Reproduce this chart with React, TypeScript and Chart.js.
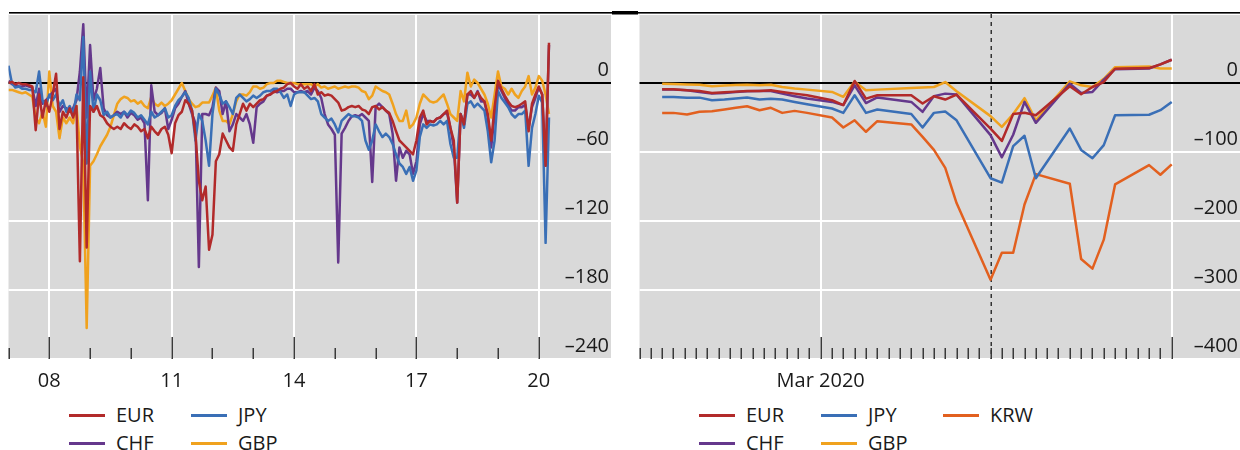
import React, { useEffect, useRef } from 'react';
import { Chart, registerables } from 'chart.js';

Chart.register(...registerables);

const FONT = '"Open Sans", "Noto Sans", sans-serif';
const TEXT = '#1a1a1a';
const PANEL_BG = '#d9d9d9';
const TICK_COLOR = '#3a3a3a';

const COLORS: Record<string, string> = {
  EUR: '#b22a2a',
  JPY: '#3a6fb6',
  CHF: '#65388c',
  GBP: '#f0a21e',
  KRW: '#e2601f',
};

// ---------- Left panel: monthly observations, Jan 2007 – Apr 2020 ----------
const leftStartYear = 2007;
const leftEUR = [
  0, 1, -1, 0, -1, -1, -2, -3, -41, -10, -30, -15,
  -25, -10, 8, -40, -25, -30, -22, -30, -20, -155, 5, -143,
  -20, -25, -20, -28, -30, -35, -38, -40, -38, -40, -35, -38,
  -40, -36, -38, -42, -40, -48, -38, -42, -45, -40, -38, -45,
  -61, -35, -28, -25, -15, -18, -24, -45, -85, -102, -90, -145,
  -132, -68, -62, -44, -50, -56, -59, -36, -27, -18, -24, -18,
  -21, -18, -15, -14, -11, -10, -8, -7, -5, -4, -1, 0,
  -3, -5, -1, -5, -3, -7, -1, -10, -8, -11, -10, -11,
  -14, -17, -24, -23, -21, -20, -21, -20, -23, -24, -27, -21,
  -20, -23, -21, -24, -26, -33, -42, -50, -53, -56, -59, -62,
  -50, -30, -24, -36, -33, -34, -31, -30, -27, -24, -39, -50,
  -104, -27, -36, -10, -7, -13, -8, -13, -16, -27, -50, -21,
  2, -5, -11, -16, -20, -21, -20, -18, -16, -42, -18, -10,
  -3, -10, -72, 35,
];
const leftJPY = [
  15, 0, -4, -3, -5, -5, -6, -6, -8, 10, -15, -20,
  -10, -15, -10, -20, -15, -25, -20, -28, -10, -15, 40, -70,
  10, -25, -10, -15, -28, -25, -30, -28, -27, -30, -25, -28,
  -24, -26, -30, -28, -32, -36, -25, -30, -28, -25, -22, -30,
  -28, -20, -15, -12, -8, -13, -24, -50, -27, -33, -50, -72,
  -27, -5, -10, -18, -16, -21, -27, -13, -10, -13, -16, -14,
  -11, -13, -11, -8, -7, -7, -5, -5, -8, -13, -10, -20,
  -10, -8, -8, -8, -11, -14, -13, -16, -27, -30, -33, -31,
  -36, -43, -33, -30, -27, -29, -29, -30, -33, -50, -58, -50,
  -36, -42, -47, -44, -47, -53, -62, -70, -73, -79, -73, -85,
  -76, -47, -36, -39, -36, -37, -36, -33, -36, -33, -53, -65,
  -65, -27, -39, -18, -16, -21, -18, -21, -24, -42, -69, -50,
  -7, -13, -17, -21, -27, -30, -27, -27, -24, -72, -39, -27,
  -11, -17, -139, -30,
];
const leftCHF = [
  2, -1, -2, -3, -3, -2, -3, -4, -20, -5, -18, -15,
  -12, -8, -5, -25, -20, -22, -25, -22, -15, 10, 51, -30,
  33, -15, -5, 13, -22, -28, -30, -28, -25, -27, -25, -30,
  -26, -28, -32, -30, -35, -102, -2, -25, -28, -26, -22, -40,
  -32, -22, -18, -12, -7, -18, -27, -35, -160, -27, -27, -28,
  -21, -4, -7, -27, -16, -42, -36, -27, -30, -33, -27, -36,
  -52, -21, -18, -16, -11, -10, -7, -8, -7, -7, -5, -5,
  -8, -8, -7, -8, -7, -10, -4, -7, -13, -27, -36, -40,
  -45, -156, -44, -39, -33, -29, -28, -29, -27, -30, -33, -86,
  -21, -18, -21, -24, -27, -44, -85, -56, -65, -59, -62, -79,
  -68, -36, -27, -33, -33, -34, -31, -30, -27, -26, -39, -56,
  -104, -27, -36, -10, -10, -13, -7, -16, -16, -30, -56, -27,
  -1, -7, -13, -19, -24, -24, -21, -21, -19, -39, -21, -13,
  -4, -10, -72, 33,
];
const leftGBP = [
  -6, -6, -7, -8, -9, -8, -10, -12, -30, -35, -25, -38,
  10, -20, -25, -48, -30, -35, -30, -35, -20, -55, -70, -213,
  -72, -68, -62, -55, -50, -45, -38, -28, -18, -14, -12, -13,
  -16, -15, -18, -16, -20, -22, -12, -18, -20, -17, -20, -18,
  -15, -10, -5, 0, -7, -14, -18, -21, -20, -17, -17, -17,
  -11, -4, -24, -33, -33, -36, -27, -16, -10, -10, -11, -8,
  -3, -3, -5, -4, -1, 0, 0, 2, 2, 1, 0, 0,
  0, -1, -1, -1, -1, -1, -3, -1, -4, -3, -5, -4,
  -3, -5, -4, -3, -4, -3, -3, -4, -7, -8, -14, -11,
  -3, -5, -7, -8, -10, -18, -27, -33, -33, -24, -39, -36,
  -30, -18, -10, -13, -16, -17, -16, -13, -10, -18, -27, -30,
  -33, -7, -16, 9, -3, 3, 0, -5, -10, -18, -30, -10,
  10, -3, -5, -10, -5, -10, -13, -7, -3, 6, -10, -4,
  6, 2, -10, -27,
];
const leftTickYears = [2007, 2008, 2009, 2010, 2011, 2012, 2013, 2014, 2015, 2016, 2017, 2018, 2019, 2020];
const leftMajorYears = [2008, 2011, 2014, 2017, 2020];
const leftYTicks = [-240, -180, -120, -60, 0, 60];

// ---------- Right panel: days since 14 Feb 2020 ----------
const rightDays = [2, 3, 4.2, 5.3, 6.4, 7.5, 8.5, 9.5, 10.6, 11.6, 12.6, 13.7, 14.8, 17, 18, 19, 20, 21, 24, 25, 26, 27, 28, 31, 32, 33, 34, 35, 38, 39, 40, 41, 42, 45, 46, 47];
const rightEUR = [-9, -9, -10.6, -11.5, -14.4, -13.5, -12.5, -11.5, -11.5, -10.6, -13, -15.4, -17.8, -25, -32, 3, -22.6, -17.8, -17.8, -29.8, -19.2, -24, -16.8, -66, -84, -45, -43, -46.7, -4.8, -16.4, -5.8, 1.4, 20.7, 21.6, 27, 33.7];
const rightJPY = [-20.2, -20.2, -21.2, -21.2, -25, -24, -22.6, -21, -24, -23, -24, -27.4, -30.8, -37, -43.3, -17.8, -43.3, -38.5, -45, -64.5, -43.3, -41.4, -54, -138, -144.3, -91.4, -76.5, -138, -66, -97, -109, -90, -46.7, -46, -39.4, -27.4];
const rightCHF = [-9.6, -9.6, -10.6, -13, -15.4, -14.4, -13, -12, -11.5, -11.5, -15.4, -19.2, -22.6, -27.4, -32, -3.4, -29, -21, -27.4, -41.8, -19, -15.4, -16.8, -75.5, -107.7, -75, -27.4, -57.7, -1, -14.4, -13, 4.8, 20, 21, 27, 33.7];
const rightGBP = [-1, -1.4, -2, -2.4, -4.8, -3.8, -3, -2.4, -3.4, -2.4, -5.8, -8, -9.6, -13, -20, 2, -10.6, -9.6, -7.2, -6.5, -5.8, 1.4, -12, -48, -63.5, -45, -22, -54, 2.4, -3.4, -5.8, 6, 23, 24, 21, 21];
const rightKRW = [-43.3, -43.3, -45.7, -41.8, -41, -38.5, -36, -33.7, -39.4, -36, -43.3, -40.4, -43.3, -50, -64.5, -54, -70.7, -55.3, -60, -78, -97, -123, -174, -285, -246, -246, -176, -132, -146, -255, -269, -227, -147, -119, -133, -118];
const rightTickDays = Array.from({ length: 48 }, (_, i) => i);
const rightMajorDays = [16, 47];
const rightDayLabels: Record<number, string> = { 16: 'Mar 2020' };
const rightEventDay = 31;
const rightYTicks = [-400, -300, -200, -100, 0, 100];

const fmt = (v: number) => (v < 0 ? '\u2013' + Math.abs(v) : String(v));

function lineDataset(label: string, xs: number[], ys: number[]) {
  return {
    label,
    data: ys.map((y, i) => ({ x: xs[i], y })),
    borderColor: COLORS[label],
    backgroundColor: COLORS[label],
    borderWidth: 2.5,
    pointRadius: 0,
    tension: 0,
    fill: false,
    borderJoinStyle: 'round' as const,
  };
}

function panelPlugin(o: {
  tickValues: number[];
  majorValues: number[];
  dashedAt?: number;
  topLineFrom: number;
  thick: [number, number];
}) {
  return {
    id: 'panelDecor',
    beforeDraw(chart: any) {
      const { ctx, chartArea: a } = chart;
      ctx.save();
      ctx.fillStyle = PANEL_BG;
      ctx.fillRect(a.left, a.top, a.right - a.left, a.bottom - a.top);
      ctx.restore();
    },
    beforeDatasetsDraw(chart: any) {
      const { ctx, chartArea: a, scales } = chart;
      const xs = scales.x;
      ctx.save();
      ctx.strokeStyle = TICK_COLOR;
      ctx.lineWidth = 1.5;
      for (const v of o.tickValues) {
        const px = Math.round(xs.getPixelForValue(v)) + 0.25;
        const len = o.majorValues.includes(v) ? 22 : 11;
        ctx.beginPath();
        ctx.moveTo(px, a.bottom);
        ctx.lineTo(px, a.bottom - len);
        ctx.stroke();
      }
      if (o.dashedAt !== undefined) {
        const px = Math.round(xs.getPixelForValue(o.dashedAt)) + 0.25;
        ctx.strokeStyle = '#333333';
        ctx.lineWidth = 1.5;
        ctx.setLineDash([4, 4]);
        ctx.beginPath();
        ctx.moveTo(px, a.top);
        ctx.lineTo(px, a.bottom);
        ctx.stroke();
      }
      ctx.restore();
    },
    afterDraw(chart: any) {
      const { ctx } = chart;
      ctx.save();
      ctx.fillStyle = '#000';
      ctx.fillRect(o.topLineFrom, 12, chart.width - o.topLineFrom, 1.6);
      ctx.fillRect(o.thick[0], 11, o.thick[1] - o.thick[0], 3.5);
      ctx.restore();
    },
  };
}

function yScale(min: number, max: number, ticks: number[]) {
  return {
    type: 'linear' as const,
    position: 'right' as const,
    min,
    max,
    afterBuildTicks: (s: any) => {
      s.ticks = ticks.map((v) => ({ value: v }));
    },
    afterFit: (s: any) => {
      s.width = 0;
      s.paddingTop = 0;
      s.paddingBottom = 0;
    },
    ticks: {
      mirror: true,
      padding: -2,
      labelOffset: -13,
      color: TEXT,
      font: { family: FONT, size: 20 },
      callback: (v: any) => (v === max ? '' : fmt(Number(v))),
    },
    grid: {
      drawTicks: false,
      color: (c: any) => (c.tick && c.tick.value === 0 ? '#000000' : '#ffffff'),
      lineWidth: 2,
    },
    border: { display: false },
  };
}

function xScale(min: number, max: number, ticks: number[], majors: number[], label: (v: number) => string) {
  return {
    type: 'linear' as const,
    min,
    max,
    afterBuildTicks: (s: any) => {
      s.ticks = ticks.map((v) => ({ value: v }));
    },
    afterFit: (s: any) => {
      s.height = 41;
      s.paddingLeft = 0;
      s.paddingRight = 0;
    },
    ticks: {
      autoSkip: false,
      maxRotation: 0,
      minRotation: 0,
      padding: 10,
      color: TEXT,
      font: { family: FONT, size: 20 },
      callback: (v: any) => label(Number(v)),
    },
    grid: {
      drawTicks: false,
      color: (c: any) => (c.tick && majors.includes(c.tick.value) ? '#ffffff' : 'rgba(0,0,0,0)'),
      lineWidth: 2,
    },
    border: { display: false },
  };
}

function leftConfig(): any {
  const xs = leftEUR.map((_, i) => leftStartYear + i / 12);
  return {
    type: 'line',
    data: {
      datasets: [
        lineDataset('EUR', xs, leftEUR),
        lineDataset('JPY', xs, leftJPY),
        lineDataset('CHF', xs, leftCHF),
        lineDataset('GBP', xs, leftGBP),
      ],
    },
    options: {
      animation: false,
      responsive: false,
      devicePixelRatio: 1,
      layout: { padding: { top: 14, left: 8.5, right: 9, bottom: 0 } },
      plugins: { legend: { display: false }, tooltip: { enabled: false } },
      scales: {
        x: xScale(2007, 2021.77, leftTickYears, leftMajorYears, (v) =>
          leftMajorYears.includes(v) ? String(v).slice(2) : ''
        ),
        y: yScale(-240, 60, leftYTicks),
      },
    },
    plugins: [
      panelPlugin({
        tickValues: leftTickYears,
        majorValues: leftMajorYears,
        topLineFrom: 9,
        thick: [612, 620],
      }),
    ],
  };
}

function rightConfig(): any {
  return {
    type: 'line',
    data: {
      datasets: [
        lineDataset('EUR', rightDays, rightEUR),
        lineDataset('CHF', rightDays, rightCHF),
        lineDataset('JPY', rightDays, rightJPY),
        lineDataset('GBP', rightDays, rightGBP),
        lineDataset('KRW', rightDays, rightKRW),
      ],
    },
    options: {
      animation: false,
      responsive: false,
      devicePixelRatio: 1,
      layout: { padding: { top: 14, left: 19.5, right: 0, bottom: 0 } },
      plugins: { legend: { display: false }, tooltip: { enabled: false } },
      scales: {
        x: xScale(0, 53.03, rightTickDays, rightMajorDays, (v) => rightDayLabels[v] || ''),
        y: yScale(-400, 100, rightYTicks),
      },
    },
    plugins: [
      panelPlugin({
        tickValues: rightTickDays,
        majorValues: rightMajorDays,
        dashedAt: rightEventDay,
        topLineFrom: 0,
        thick: [0, 18],
      }),
    ],
  };
}

function ChartCanvas({ make, left }: { make: () => any; left: number }) {
  const ref = useRef<HTMLCanvasElement>(null);
  useEffect(() => {
    if (!ref.current) return;
    const chart = new Chart(ref.current, make());
    return () => chart.destroy();
  }, [make]);
  return (
    <canvas
      ref={ref}
      width={620}
      height={400}
      style={{ position: 'absolute', left, top: 0, width: 620, height: 400 }}
    />
  );
}

type LegendItem = { label: string; x: number; y: number };

const leftLegend: LegendItem[] = [
  { label: 'EUR', x: 69, y: 415 },
  { label: 'JPY', x: 191, y: 415 },
  { label: 'CHF', x: 69, y: 443 },
  { label: 'GBP', x: 191, y: 443 },
];
const rightLegend: LegendItem[] = [
  { label: 'EUR', x: 699, y: 415 },
  { label: 'JPY', x: 821, y: 415 },
  { label: 'KRW', x: 943, y: 415 },
  { label: 'CHF', x: 699, y: 443 },
  { label: 'GBP', x: 821, y: 443 },
];

function Legend({ items }: { items: LegendItem[] }) {
  return (
    <>
      {items.map((it) => (
        <React.Fragment key={it.label + it.x}>
          <div
            style={{
              position: 'absolute',
              left: it.x,
              top: it.y - 1.5,
              width: 36,
              height: 3,
              background: COLORS[it.label],
            }}
          />
          <div
            style={{
              position: 'absolute',
              left: it.x + 47,
              top: it.y - 12.5,
              height: 24,
              lineHeight: '24px',
              fontFamily: FONT,
              fontSize: 20,
              color: TEXT,
              whiteSpace: 'nowrap',
            }}
          >
            {it.label}
          </div>
        </React.Fragment>
      ))}
    </>
  );
}

export default function App() {
  return (
    <div
      style={{
        position: 'absolute',
        left: 0,
        top: 0,
        width: 1240,
        height: 450,
        background: '#ffffff',
        overflow: 'hidden',
      }}
    >
      <ChartCanvas make={leftConfig} left={0} />
      <ChartCanvas make={rightConfig} left={620} />
      <Legend items={leftLegend} />
      <Legend items={rightLegend} />
    </div>
  );
}
